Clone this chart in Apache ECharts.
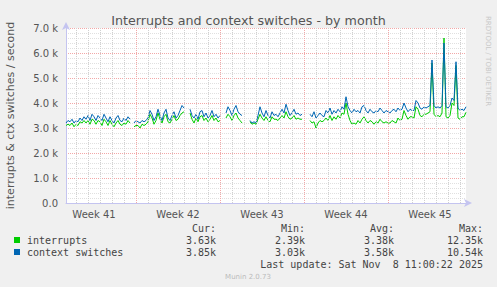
<!DOCTYPE html>
<html><head><meta charset="utf-8">
<script src="https://cdn.jsdelivr.net/npm/echarts@6/dist/echarts.min.js"></script>
<style>html,body{margin:0;padding:0;background:#f0f0f0}#c{width:497px;height:287px}</style>
</head><body><div id="c"></div>
<script>
// 4-hour samples over the month (index 0 = start of graph)
const interrupts = [
3.1,3.15,3.1,3.2,3.05,3.15,3.1,3.25,3.2,3.3,
3.2,3.3,3.15,3.35,3.3,3.15,3.3,3.25,3.1,3.35,
3.25,3.1,3.3,3.15,3.05,3.2,3.3,3.15,3.1,3.2,
3.15,3.3,3.2,null,3.05,3.1,3.1,3.0,3.15,3.1,
3.15,3.25,3.55,3.4,3.15,3.3,3.6,3.35,3.2,3.45,
3.55,3.25,3.2,3.35,3.5,3.3,3.35,3.5,3.6,3.65,
null,null,3.6,3.35,3.2,3.4,3.25,3.45,3.5,3.3,
3.4,3.25,3.35,3.5,3.3,3.4,3.25,3.3,null,null,
3.4,3.55,3.45,3.3,3.5,3.6,3.4,3.3,3.2,null,
null,null,3.25,3.15,3.2,3.15,3.35,3.55,3.4,3.3,
3.45,3.3,3.25,3.45,3.35,3.35,3.3,3.4,3.5,3.4,
3.65,3.45,3.35,3.4,3.5,3.35,3.4,3.35,3.35,null,
null,null,3.3,3.2,3.25,3.0,3.2,3.3,3.25,3.3,
3.4,3.3,3.5,3.3,3.45,3.35,3.5,3.4,3.6,3.55,
4.0,3.55,3.3,3.15,3.2,3.15,3.3,3.2,3.35,3.45,
3.3,3.2,3.3,3.25,3.15,3.25,3.2,3.35,3.25,3.2,
3.25,3.2,3.2,3.3,3.25,3.2,3.4,3.3,3.35,3.7,
3.5,3.35,3.45,3.45,3.4,3.85,3.75,3.5,3.45,3.55,
3.55,3.6,3.65,5.6,3.55,3.45,3.5,3.45,3.6,6.6,
3.45,3.4,3.5,4.0,3.9,5.5,3.4,3.35,3.45,3.45,3.63
];
const contextSwitches = [
3.2,3.3,3.25,3.35,3.2,3.3,3.25,3.4,3.3,3.45,
3.35,3.5,3.3,3.55,3.45,3.3,3.5,3.4,3.3,3.55,
3.4,3.25,3.45,3.3,3.2,3.4,3.5,3.3,3.25,3.4,
3.3,3.45,3.35,null,3.2,3.3,3.25,3.2,3.3,3.25,
3.3,3.4,3.7,3.55,3.3,3.45,3.75,3.5,3.3,3.6,
3.75,3.4,3.3,3.5,3.65,3.4,3.5,3.7,3.9,3.8,
null,null,3.75,3.5,3.4,3.55,3.35,3.65,3.7,3.45,
3.6,3.4,3.5,3.7,3.45,3.55,3.4,3.5,null,null,
3.6,3.85,3.7,3.5,3.75,3.9,3.65,3.55,3.5,null,
null,null,3.3,3.2,3.25,3.2,3.5,3.85,3.6,3.45,
3.7,3.5,3.4,3.65,3.5,3.55,3.45,3.6,3.75,3.6,
3.95,3.7,3.5,3.6,3.75,3.55,3.6,3.5,3.55,null,
null,null,3.55,3.45,3.65,3.4,3.5,3.6,3.5,3.45,
3.7,3.6,3.8,3.55,3.7,3.6,3.75,3.65,3.85,3.75,
4.25,3.85,3.7,3.6,3.75,3.65,3.7,3.6,3.85,3.9,
3.7,3.6,3.75,3.65,3.6,3.7,3.65,3.8,3.7,3.6,
3.7,3.65,3.6,3.7,3.75,3.65,3.8,3.7,3.75,4.0,
3.8,3.65,3.75,3.7,3.7,4.1,4.0,3.8,3.75,3.85,
3.8,3.85,3.9,5.72,3.9,3.8,3.85,3.8,3.9,6.4,
3.85,3.8,3.9,4.2,4.1,5.65,3.8,3.7,3.75,3.7,3.85
];
const weekLabels = ['Week 41','Week 42','Week 43','Week 44','Week 45'];
const weekLabelIdx = [14, 56, 98, 140, 182];   // sample index of label centres
const weekBoundaryIdx = [35, 77, 119, 161];    // sample index of week starts
const dayOffset = 5;                           // first midnight sample index
const samplesPerDay = 6;
const statsHeader = ['Cur:', 'Min:', 'Avg:', 'Max:'];
const statsInterrupts = ['3.63k', '2.39k', '3.38k', '12.35k'];
const statsContext = ['3.85k', '3.03k', '3.58k', '10.54k'];
const lastUpdate = 'Last update: Sat Nov  8 11:00:22 2025';

const cats = interrupts.map((_, i) => String(i));
const toUnits = a => a.map(v => v == null ? null : v * 1000);

const dayLines = [];
for (let i = dayOffset; i < cats.length; i += samplesPerDay) {
  if (weekBoundaryIdx.indexOf(i) < 0) dayLines.push({xAxis: cats[i]});
}
const weekLines = weekBoundaryIdx.map(i => ({xAxis: cats[i]}));

const mono = '"DejaVu Sans Mono", monospace';
const sans = '"DejaVu Sans", sans-serif';
const txt = '#444';
const statX = [216, 305, 394, 483];
const gfx = [];
const addText = (x, y, t) => gfx.push({type:'text', x: x, y: y, style:{text:t, font:'10px '+mono, fill:txt, textAlign:'right', textVerticalAlign:'middle'}});
statsHeader.forEach((h, k) => addText(statX[k], 228, h));
statsInterrupts.forEach((h, k) => addText(statX[k], 240, h));
statsContext.forEach((h, k) => addText(statX[k], 252, h));
addText(483, 264, lastUpdate);
gfx.push({type:'text', x: 248, y: 277, style:{text:'Munin 2.0.73', font:'7px '+sans, fill:'#bbb', textAlign:'center', textVerticalAlign:'middle'}});
gfx.push({type:'text', x: 488, y: 16, rotation: -Math.PI/2, style:{text:'RRDTOOL / TOBI OETIKER', font:'7px '+sans, fill:'#c8c8c8', textAlign:'left', textVerticalAlign:'middle'}});

const gridLine = (color) => ({color: color, type:[1,1], width:1});

const chart = echarts.init(document.getElementById('c'), null, {renderer:'svg'});
chart.setOption({
  backgroundColor: '#f0f0f0',
  animation: false,
  title: {text:'Interrupts and context switches - by month', left: 'center', top: 9,
    textStyle:{fontFamily: sans, fontSize: 12.7, fontWeight:'normal', color:'#555'}},
  grid: {left: 66, right: 31, top: 28, bottom: 84, backgroundColor:'#ffffff', show: true, borderWidth: 0,
    containLabel: false, outerBoundsMode: 'none'},
  legend: {orient:'vertical', left: 14, top: 234, padding: 0, itemWidth: 6, itemHeight: 6, itemGap: 0,
    icon: 'rect', textStyle:{fontFamily: mono, fontSize: 10, color: txt, padding:[0,0,0,2], lineHeight: 12},
    data: ['interrupts', 'context switches']},
  xAxis: {
    type:'category', data: cats, boundaryGap: false,
    axisLine:{show:true, lineStyle:{color:'#c4c4f0'}, symbol:['none','arrow'], symbolSize:[6,8], symbolOffset:[0,6]},
    axisTick:{show:false},
    axisLabel:{show:true, interval:(i)=> weekLabelIdx.indexOf(i) >= 0, margin: 6,
      formatter:(v)=> weekLabels[weekLabelIdx.indexOf(Number(v))] || '',
      fontFamily: sans, fontSize: 10, color:'#555'},
    splitLine:{show:false}
  },
  yAxis: {
    type:'value', min: 0, max: 7000, interval: 1000,
    name:'interrupts & ctx switches / second', nameLocation:'middle', nameGap: 50, nameRotate: 90,
    nameTextStyle:{fontFamily: sans, fontSize: 11, color:'#555'},
    axisLine:{show:true, lineStyle:{color:'#c4c4f0'}, symbol:['none','arrow'], symbolSize:[6,8], symbolOffset:[0,6]},
    axisTick:{show:false},
    axisLabel:{margin: 8, fontFamily: sans, fontSize: 10, color:'#555',
      formatter:(v)=> v === 0 ? '0.0' : (v/1000).toFixed(1) + ' k'},
    splitLine:{show:true, lineStyle: gridLine('#f2a8a8')},
    minorSplitLine:{show:true, lineStyle: gridLine('#e0e0e0')},
    minorTick:{show:false, splitNumber:5}
  },
  series: [
    {name:'day grid', type:'line', data: [], silent: true, z: 1,
      markLine:{silent:true, symbol:'none', label:{show:false}, animation:false,
        lineStyle: gridLine('#d0d0d0'), emphasis:{disabled:true}, data: dayLines}},
    {name:'week grid', type:'line', data: [], silent: true, z: 1,
      markLine:{silent:true, symbol:'none', label:{show:false}, animation:false,
        lineStyle: gridLine('#f2a8a8'), emphasis:{disabled:true}, data: weekLines}},
    {name:'interrupts', type:'line', data: toUnits(interrupts), showSymbol:false, symbol:'none',
      connectNulls:false, color:'#00cc00', lineStyle:{width:1}, z: 3},
    {name:'context switches', type:'line', data: toUnits(contextSwitches), showSymbol:false, symbol:'none',
      connectNulls:false, color:'#0066b3', lineStyle:{width:1}, z: 4}
  ],
  graphic: gfx
});
</script></body></html>
